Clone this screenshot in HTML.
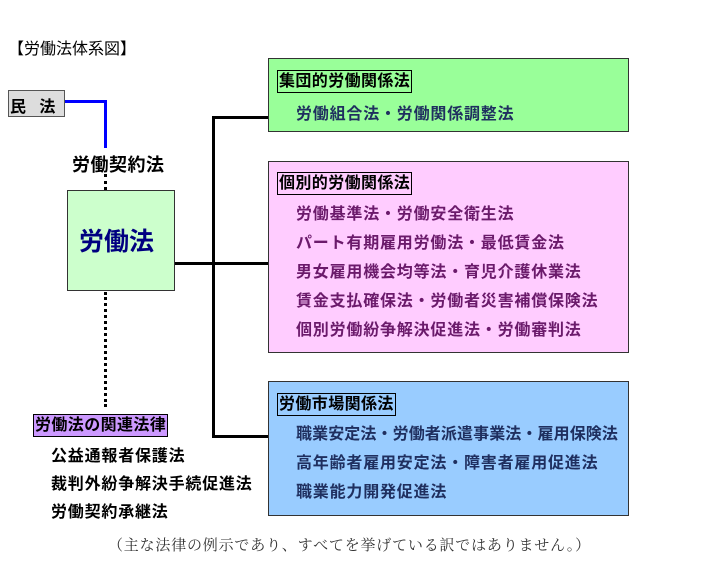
<!DOCTYPE html>
<html><head><meta charset="utf-8"><style>
body{margin:0;width:722px;height:588px;background:#fff;position:relative;overflow:hidden;font-family:"Liberation Sans","Noto Sans CJK JP",sans-serif;}
.a{position:absolute;white-space:nowrap;}
.b{font-weight:bold;font-size:16px;letter-spacing:0.8px;}
.box{position:absolute;border:1.5px solid #333;box-sizing:border-box;}
.lbl{position:absolute;border:1.5px solid #000;padding:0 1px;font-size:16px;line-height:21px;font-weight:bold;letter-spacing:0.4px;}
.ln{position:absolute;background:#000;}
.dot{position:absolute;border-left:3px dotted #000;}
</style></head><body>
<div class="a" style="left:8px;top:35px;font-size:16px;">【労働法体系図】</div>
<div class="box" style="left:8px;top:90px;width:57px;height:27px;background:#ddd;border:1px solid #555;"></div>
<div class="a" style="left:10px;top:93px;font-size:16px;font-weight:bold;">民&nbsp;&nbsp;&nbsp;法</div>
<div class="ln" style="left:65px;top:100px;width:42px;height:3px;background:#00f;"></div>
<div class="ln" style="left:104px;top:100px;width:3px;height:48px;background:#00f;"></div>
<div class="a b" style="left:72px;top:151px;font-size:18px;letter-spacing:0.5px;">労働契約法</div>
<div class="dot" style="left:104px;top:174px;height:40px;"></div>
<div class="box" style="left:67px;top:190px;width:108px;height:101px;background:#ccffcc;"></div>
<div class="a" style="left:79px;top:240px;font-size:25px;font-weight:bold;color:#000080;transform:translateY(-50%);">労働法</div>
<div class="ln" style="left:175px;top:262px;width:93px;height:3px;"></div>
<div class="ln" style="left:212px;top:116px;width:3px;height:322px;"></div>
<div class="ln" style="left:212px;top:116px;width:56px;height:3px;"></div>
<div class="ln" style="left:212px;top:435px;width:56px;height:3px;"></div>
<div class="dot" style="left:104px;top:292px;height:115px;"></div>

<div class="box" style="left:268px;top:58px;width:361px;height:74px;background:#99ff99;"></div>
<div class="lbl" style="left:277px;top:70px;">集団的労働関係法</div>
<div class="a b" style="left:296px;top:100px;color:#1f2f5f;">労働組合法・労働関係調整法</div>

<div class="box" style="left:268px;top:161px;width:361px;height:192px;background:#ffccff;"></div>
<div class="lbl" style="left:277px;top:172px;">個別的労働関係法</div>
<div class="a b" style="left:296px;top:200px;color:#6b1a6b;line-height:29px;">労働基準法・労働安全衛生法<br>パート有期雇用労働法・最低賃金法<br>男女雇用機会均等法・育児介護休業法<br>賃金支払確保法・労働者災害補償保険法<br>個別労働紛争解決促進法・労働審判法</div>

<div class="box" style="left:268px;top:381px;width:361px;height:135px;background:#99ccff;"></div>
<div class="lbl" style="left:277px;top:393px;">労働市場関係法</div>
<div class="a b" style="left:296px;top:420px;color:#1f2f5f;line-height:29px;"><span style="letter-spacing:0.1px">職業安定法・労働者派遣事業法・雇用保険法</span><br>高年齢者雇用安定法・障害者雇用促進法<br>職業能力開発促進法</div>

<div class="lbl" style="left:33px;top:414px;background:#cc99ff;border-width:1px;">労働法の関連法律</div>
<div class="a b" style="left:51px;top:443px;line-height:28px;">公益通報者保護法<br>裁判外紛争解決手続促進法<br>労働契約承継法</div>
<div class="a" style="left:108px;top:534px;font-size:15px;letter-spacing:0.8px;color:#333;font-family:'Liberation Serif','Noto Serif CJK SC',serif;">（主な法律の例示であり、すべてを挙げている訳ではありません。）</div>
</body></html>
